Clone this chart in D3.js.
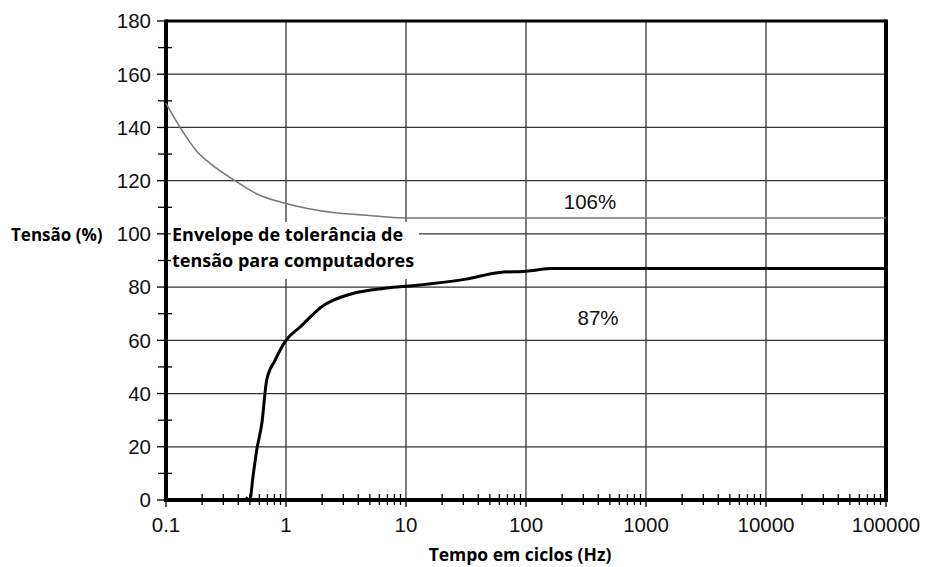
<!DOCTYPE html>
<html>
<head>
<meta charset="utf-8">
<script src="https://cdn.jsdelivr.net/npm/d3@7"></script>
<style>
  body { margin: 0; background: #fff; }
  svg { display: block; }
  .tick-label { font-family: "Liberation Sans", Arial, sans-serif; font-size: 20.5px; fill: #111; }
  .bold-label { font-family: "Open Sans", sans-serif; font-weight: bold; fill: #000; }
</style>
</head>
<body>
<div id="chart"></div>
<script>
const width = 927;
const height = 567;
const margin = { top: 21, right: 41, bottom: 67, left: 166 };

// tick values
const xTicks = [0.1, 1, 10, 100, 1000, 10000, 100000];
const xTickLabels = ["0.1", "1", "10", "100", "1000", "10000", "100000"];
const yTicks = [0, 20, 40, 60, 80, 100, 120, 140, 160, 180];

// upper curve (106 %)
const upperX = [0.1, 0.131, 0.181, 0.233, 0.361, 0.573, 1, 2.46, 4.73, 9.5, 100000];
const upperY = [149, 140, 131, 126.5, 120.5, 115, 111.4, 108, 107, 106, 106];

// lower curve (87 %)
const lowerX = [0.46, 0.5, 0.53, 0.57, 0.63, 0.69, 0.81, 1, 1.31, 2.04, 2.46, 3.6, 6.5, 10, 31.6, 60, 100, 167, 100000];
const lowerY = [1, 0, 8.6, 18.7, 29, 45, 52.5, 60, 65, 73, 75, 77.6, 79.5, 80.3, 83, 85.5, 86, 87, 87];

const svg = d3
  .select("#chart")
  .append("svg")
  .attr("width", width)
  .attr("height", height);

const xScale = d3
  .scaleLog()
  .domain([0.1, 100000])
  .range([margin.left, width - margin.right]);

const yScale = d3
  .scaleLinear()
  .domain([0, 180])
  .range([height - margin.bottom, margin.top]);

const x0 = xScale.range()[0];
const x1 = xScale.range()[1];
const y0 = yScale.range()[0];
const y1 = yScale.range()[1];

// grid
svg
  .append("g")
  .selectAll("line")
  .data(yTicks)
  .join("line")
  .attr("x1", x0)
  .attr("x2", x1)
  .attr("y1", (d) => yScale(d))
  .attr("y2", (d) => yScale(d))
  .attr("stroke", "#333")
  .attr("stroke-width", 1.3);

svg
  .append("g")
  .selectAll("line")
  .data(xTicks)
  .join("line")
  .attr("x1", (d) => xScale(d))
  .attr("x2", (d) => xScale(d))
  .attr("y1", y0)
  .attr("y2", y1)
  .attr("stroke", "#333")
  .attr("stroke-width", 1.3);

// minor x ticks (2..9 of each decade)
const minorX = [];
xTicks.slice(0, -1).forEach((d) => {
  for (let k = 2; k <= 9; k++) minorX.push(d * k);
});
svg
  .append("g")
  .selectAll("line")
  .data(minorX)
  .join("line")
  .attr("x1", (d) => xScale(d))
  .attr("x2", (d) => xScale(d))
  .attr("y1", y0 - 6)
  .attr("y2", y0 + 5)
  .attr("stroke", "#000")
  .attr("stroke-width", 1.3);

// major x ticks below axis
svg
  .append("g")
  .selectAll("line")
  .data(xTicks)
  .join("line")
  .attr("x1", (d) => xScale(d))
  .attr("x2", (d) => xScale(d))
  .attr("y1", y0)
  .attr("y2", y0 + 7)
  .attr("stroke", "#000")
  .attr("stroke-width", 1.3);

// minor y ticks (odd tens)
const minorY = d3.range(10, 180, 20);
svg
  .append("g")
  .selectAll("line")
  .data(minorY)
  .join("line")
  .attr("x1", x0 - 8)
  .attr("x2", x0 + 6)
  .attr("y1", (d) => yScale(d))
  .attr("y2", (d) => yScale(d))
  .attr("stroke", "#000")
  .attr("stroke-width", 1.3);

svg
  .append("g")
  .selectAll("line")
  .data(yTicks)
  .join("line")
  .attr("x1", x0 - 9)
  .attr("x2", x0)
  .attr("y1", (d) => yScale(d))
  .attr("y2", (d) => yScale(d))
  .attr("stroke", "#000")
  .attr("stroke-width", 1.3);

// frame
svg.append("line").attr("x1", x0).attr("x2", x1).attr("y1", y1).attr("y2", y1)
  .attr("stroke", "#000").attr("stroke-width", 3);
svg.append("line").attr("x1", x1).attr("x2", x1).attr("y1", y1 - 1.5).attr("y2", y0 + 2)
  .attr("stroke", "#000").attr("stroke-width", 4);
svg.append("line").attr("x1", x0).attr("x2", x0).attr("y1", y1 - 1.5).attr("y2", y0 + 2)
  .attr("stroke", "#000").attr("stroke-width", 4);
svg.append("line").attr("x1", x0 - 2).attr("x2", x1 + 2).attr("y1", y0).attr("y2", y0)
  .attr("stroke", "#000").attr("stroke-width", 4);

// tick labels
svg
  .append("g")
  .selectAll("text")
  .data(yTicks)
  .join("text")
  .attr("class", "tick-label")
  .attr("x", x0 - 15)
  .attr("y", (d) => yScale(d))
  .attr("dy", "0.36em")
  .attr("text-anchor", "end")
  .text((d) => d);

svg
  .append("g")
  .selectAll("text")
  .data(xTicks)
  .join("text")
  .attr("class", "tick-label")
  .attr("x", (d) => xScale(d))
  .attr("y", y0 + 32)
  .attr("text-anchor", "middle")
  .text((d, i) => xTickLabels[i]);

// curves
svg
  .append("path")
  .datum(d3.zip(upperX, upperY))
  .attr("d", d3.line().x((d) => xScale(d[0])).y((d) => yScale(d[1])).curve(d3.curveMonotoneX))
  .attr("fill", "none")
  .attr("stroke", "#777")
  .attr("stroke-width", 1.5);

svg
  .append("path")
  .datum(d3.zip(lowerX, lowerY))
  .attr("d", d3.line().x((d) => xScale(d[0])).y((d) => yScale(d[1])).curve(d3.curveMonotoneX))
  .attr("fill", "none")
  .attr("stroke", "#000")
  .attr("stroke-width", 3);

// annotation box
svg
  .append("rect")
  .attr("x", x0 + 5)
  .attr("y", 222)
  .attr("width", 248)
  .attr("height", 57)
  .attr("fill", "#fff");

const note = svg
  .append("text")
  .attr("class", "bold-label")
  .attr("x", x0 + 6)
  .attr("y", 241)
  .style("font-size", "18px");
note.append("tspan").attr("x", x0 + 6).text("Envelope de tolerância de");
note.append("tspan").attr("x", x0 + 6).attr("dy", 26).text("tensão para computadores");

// value labels
svg
  .append("text")
  .attr("class", "tick-label")
  .attr("x", 590)
  .attr("y", yScale(112))
  .attr("dy", "0.36em")
  .attr("text-anchor", "middle")
  .style("font-size", "20.5px")
  .text("106%");

svg
  .append("text")
  .attr("class", "tick-label")
  .attr("x", 598)
  .attr("y", yScale(68.5))
  .attr("dy", "0.36em")
  .attr("text-anchor", "middle")
  .style("font-size", "20.5px")
  .text("87%");

// axis titles
svg
  .append("text")
  .attr("class", "bold-label")
  .attr("x", 11)
  .attr("y", yScale(100))
  .attr("dy", "0.4em")
  .style("font-size", "17px")
  .text("Tensão (%)");

svg
  .append("text")
  .attr("class", "bold-label")
  .attr("x", 520)
  .attr("y", 561)
  .attr("text-anchor", "middle")
  .style("font-size", "17.5px")
  .text("Tempo em ciclos (Hz)");
</script>
</body>
</html>
